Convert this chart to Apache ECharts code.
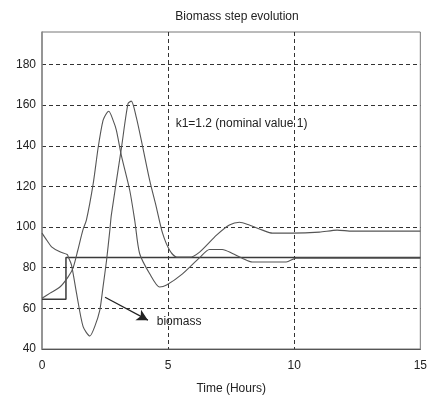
<!DOCTYPE html>
<html>
<head>
<meta charset="utf-8">
<script src="https://cdn.jsdelivr.net/npm/echarts@6/dist/echarts.min.js"></script>
<style>
html,body{margin:0;padding:0;background:#fff;}
#chart{width:430px;height:401px;}
</style>
</head>
<body>
<div id="chart"></div>
<script>
// Curve that starts near 97 and peaks at ~162
const curveA_t = [0, 0.19, 0.38, 0.71, 1.0, 1.05, 1.17, 1.37, 1.63, 1.9, 2.09, 2.29, 2.42, 2.56, 2.69, 2.75, 3.15, 3.41, 3.54, 3.74, 4.0, 4.27, 4.53, 4.78, 5.06, 5.34, 5.85, 6.25, 6.92, 7.43, 7.83, 8.22, 8.74, 9.13, 9.92, 11.0, 11.7, 12.3, 15];
const curveA_v = [97, 93.5, 90.3, 87.8, 86.5, 85, 81.3, 67.4, 51, 46.4, 51, 59, 70.6, 83.7, 98.5, 106, 139, 160.7, 162, 154, 139, 123, 110, 97, 88.6, 85.2, 85.2, 87.7, 96, 101, 102.4, 101, 98.5, 97, 97, 97.5, 98.5, 98, 98];
// Curve that starts near 65 and peaks at ~157
const curveB_t = [0, 0.32, 0.71, 1.03, 1.23, 1.42, 1.62, 1.76, 2.03, 2.23, 2.42, 2.56, 2.65, 2.82, 2.95, 3.15, 3.48, 3.68, 3.87, 4.27, 4.66, 4.94, 5.57, 6.25, 6.64, 7.15, 7.55, 7.94, 8.34, 9.68, 10.08, 15];
const curveB_v = [65, 67.5, 70.5, 75.4, 79.8, 88.6, 98.5, 103.4, 121.4, 139.4, 152.5, 156, 157, 152.5, 147.6, 135, 118, 103, 87, 77, 70.5, 71.5, 77, 85, 89, 89, 87, 84.7, 82.8, 82.8, 84.7, 84.7];
// Step input
const step_t = [0, 0.95, 0.95, 15];
const step_v = [64.5, 64.5, 85, 85];

const xTicks = [0, 5, 10, 15];
const yTicks = [40, 60, 80, 100, 120, 140, 160, 180];

const titleText = 'Biomass step evolution';
const xName = 'Time (Hours)';
const annotK = 'k1=1.2 (nominal value 1)';
const annotBio = 'biomass';
const annotK_pos = [5.3, 151];
const annotBio_pos = [4.55, 53.3];
const arrowFrom = [2.5, 65.5];
const arrowTo = [4.2, 54.2];

const zip = (a, b) => a.map((v, i) => [v, b[i]]);

const chart = echarts.init(document.getElementById('chart'), null, {renderer: 'canvas'});
const font = 'Liberation Sans, Arial, sans-serif';
chart.setOption({
  animation: false,
  backgroundColor: '#fff',
  title: {
    text: titleText, left: 232, top: 6, textAlign: 'center',
    textStyle: {fontSize: 12, fontWeight: 'normal', color: '#222', fontFamily: font}
  },
  grid: {left: 42, right: 8, top: 32, bottom: 52, show: true, borderColor: '#777', borderWidth: 1, backgroundColor: 'transparent'},
  xAxis: {
    type: 'value', min: 0, max: 15, interval: 5,
    name: xName, nameLocation: 'middle', nameGap: 34,
    nameTextStyle: {fontSize: 12, color: '#222', fontFamily: font},
    axisLine: {show: true, lineStyle: {color: '#555', width: 1}},
    axisTick: {show: false},
    axisLabel: {fontSize: 12, color: '#222', margin: 11, fontFamily: font,
      formatter: v => xTicks.includes(v) ? String(v) : ''},
    splitLine: {show: true, showMinLine: false, showMaxLine: false, lineStyle: {color: '#333', type: [4, 3], width: 1}}
  },
  yAxis: {
    type: 'value', min: 40, max: 196, interval: 20,
    axisLine: {show: true, lineStyle: {color: '#888', width: 1.5}},
    axisTick: {show: false},
    axisLabel: {fontSize: 12, color: '#222', margin: 6, fontFamily: font,
      formatter: v => yTicks.includes(v) ? String(v) : ''},
    splitLine: {show: true, showMinLine: true, showMaxLine: false, lineStyle: {color: '#333', type: [4, 3], width: 1}}
  },
  series: [
    {
      type: 'line', data: zip(step_t, step_v), showSymbol: false,
      lineStyle: {color: '#3a3a3a', width: 1.5}, z: 3
    },
    {
      type: 'line', data: zip(curveA_t, curveA_v), showSymbol: false, smooth: 0.25,
      lineStyle: {color: '#555', width: 1.1}, z: 4,
      markPoint: {
        symbol: 'circle', symbolSize: 0,
        label: {show: true, position: 'right', distance: 0, color: '#222', fontSize: 12, fontFamily: font},
        data: [
          {coord: annotK_pos, label: {formatter: annotK}},
          {coord: annotBio_pos, label: {formatter: annotBio}}
        ]
      },
      markLine: {
        silent: true, symbol: ['none', 'arrow'], symbolSize: [9, 11],
        label: {show: false},
        lineStyle: {color: '#222', type: 'solid', width: 1.2},
        data: [[{coord: arrowFrom}, {coord: arrowTo}]]
      }
    },
    {
      type: 'line', data: zip(curveB_t, curveB_v), showSymbol: false, smooth: 0.25,
      lineStyle: {color: '#555', width: 1.1}, z: 4
    }
  ]
});
</script>
</body>
</html>
